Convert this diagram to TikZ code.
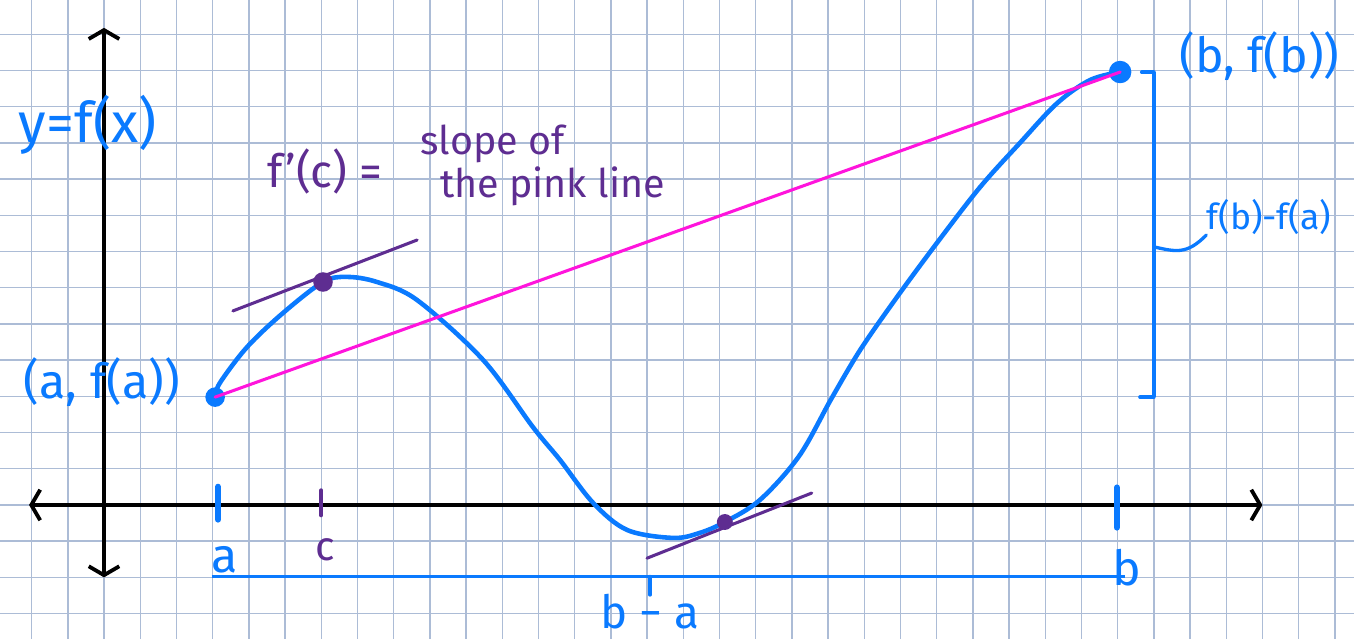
\documentclass[tikz,border=0pt]{standalone}
\usepackage{fontspec}
\setmainfont{Fira Sans}
\usetikzlibrary{arrows.meta,calc}

\definecolor{penblue}{RGB}{10,122,255}
\definecolor{penpink}{RGB}{255,20,220}
\definecolor{penpurple}{RGB}{94,45,145}
\definecolor{paperline}{RGB}{172,188,214}

\tikzset{
  bluepen/.style={penblue,line width=3.6pt,line cap=round,line join=round},
  purplepen/.style={penpurple,line width=2.4pt,line cap=round},
  bluetext/.style={text=penblue,font=\fontsize{38}{44}\selectfont,inner sep=0pt},
  purpletext/.style={text=penpurple,font=\fontsize{32}{38}\selectfont,inner sep=0pt},
}

\begin{document}
\begin{tikzpicture}[>={Straight Barb[length=7pt,width=24pt]}]
      % Paper: squared grid, one cell per unit
      \useasboundingbox (-2.873,-3.70) rectangle (34.53,13.95);
      \fill[white] (-2.873,-3.70) rectangle (34.53,13.95);
      \draw[paperline,line width=1.1pt] (-2.873,-3.70) grid (34.53,13.95);

      % Axes
      \draw[line width=3pt,<->] (-2.07,0) -- (32,0);
      \draw[line width=3pt,<->] (0,-2) -- (0,13.18);
      \node[bluetext,font=\fontsize{44}{50}\selectfont] (yfx) at (-0.45,10.5) {y=f(x)};

      % Points on the graph
      \coordinate (A) at (3.07,2.98);
      \coordinate (C) at (6.05,6.16);
      \coordinate (D) at (17.15,-0.47);
      \coordinate (B) at (28.07,11.96);

      % The graph of f
      \draw[bluepen] plot[smooth,tension=0.55] coordinates {
        (A) (3.20,3.37) (3.95,4.36) (4.94,5.30) (C) (6.71,6.30) (7.54,6.16)
        (8.65,5.66) (10.47,4.01) (11.85,2.15) (12.60,1.24) (13.51,0.06)
        (14.45,-0.69) (15.72,-0.91) (16.46,-0.77) (D) (18.12,0.14)
        (19.20,1.35) (20.10,2.95) (20.90,4.30) (21.91,5.75) (23.01,7.24)
        (24.20,8.78) (25.30,10.0) (26.33,11.10) (27.24,11.74) (B)};
      \fill[penblue] (A) circle[radius=0.27];
      \fill[penblue] (B) circle[radius=0.31];
      \node[bluetext,anchor=east] (fa) at (2.1,3.4) {(a, f(a))};
      \node[bluetext,anchor=west] (fb) at (29.7,12.4) {(b, f(b))};

      % Secant from (a,f(a)) to (b,f(b))
      \draw[penpink,line width=2.4pt,line cap=round] (A) -- (B);

      % Tangent lines parallel to the secant
      \coordinate (Cl) at (3.56,5.36);
      \coordinate (Cr) at (8.65,7.32);
      \coordinate (Dl) at (15.0,-1.47);
      \coordinate (Dr) at (19.55,0.33);
      \draw[purplepen] (Cl) -- (Cr);
      \draw[purplepen] (Dl) -- (Dr);
      \fill[penpurple] (C) circle[radius=0.27];
      \fill[penpurple] (D) circle[radius=0.22];
      \node[purpletext,font=\fontsize{36}{42}\selectfont] (fpc) at (6.1,9.2) {f'(c) =};
      \node[purpletext,anchor=west,align=left,font=\fontsize{31}{34}\selectfont]
        (slope) at (8.73,9.39) {slope of\\\hspace{0.5em}the pink line};

      % Ticks on the x-axis
      \draw[penblue,line width=5pt,line cap=round] (3.15,0.5) -- (3.15,-0.4);
      \draw[penpurple,line width=3.5pt,line cap=round] (6.0,0.4) -- (6.0,-0.28);
      \draw[penblue,line width=5pt,line cap=round] (27.98,0.48) -- (27.98,-0.62);
      \node[bluetext] (la) at (3.34,-1.5) {a};
      \node[purpletext] (lc) at (6.1,-1.25) {c};
      \node[bluetext] (lb) at (28.26,-1.72) {b};

      % Horizontal span b - a
      \coordinate (Sa) at (2.97,-1.98);
      \coordinate (Sb) at (28.2,-1.98);
      \coordinate (Sm) at (15.08,-1.98);
      \draw[penblue,line width=2.8pt] (Sa) -- (Sb);
      \draw[penblue,line width=3pt,line cap=round] (Sm) -- ++(0,-0.5);
      \node[bluetext,font=\fontsize{36}{42}\selectfont] (lba) at (15.08,-2.95) {b − a};

      % Vertical span f(b) - f(a)
      \coordinate (Vt) at (29.0,11.95);
      \coordinate (Vb) at (29.0,2.98);
      \coordinate (Vm) at (29.0,7.13);
      \draw[penblue,line width=2.8pt] (Vt) -- (Vb);
      \draw[penblue,line width=3pt,line cap=round] (28.67,11.95) -- (Vt);
      \draw[penblue,line width=3pt,line cap=round] (28.62,2.98) -- (Vb);
      \node[bluetext,anchor=west,font=\fontsize{28}{33}\selectfont] (diff) at (30.45,7.95) {f(b)-f(a)};
      \draw[penblue,line width=2.6pt,line cap=round]
        (Vm) .. controls (29.6,7.0) and (29.9,6.9) .. (diff.south west);
\end{tikzpicture}
\end{document}
